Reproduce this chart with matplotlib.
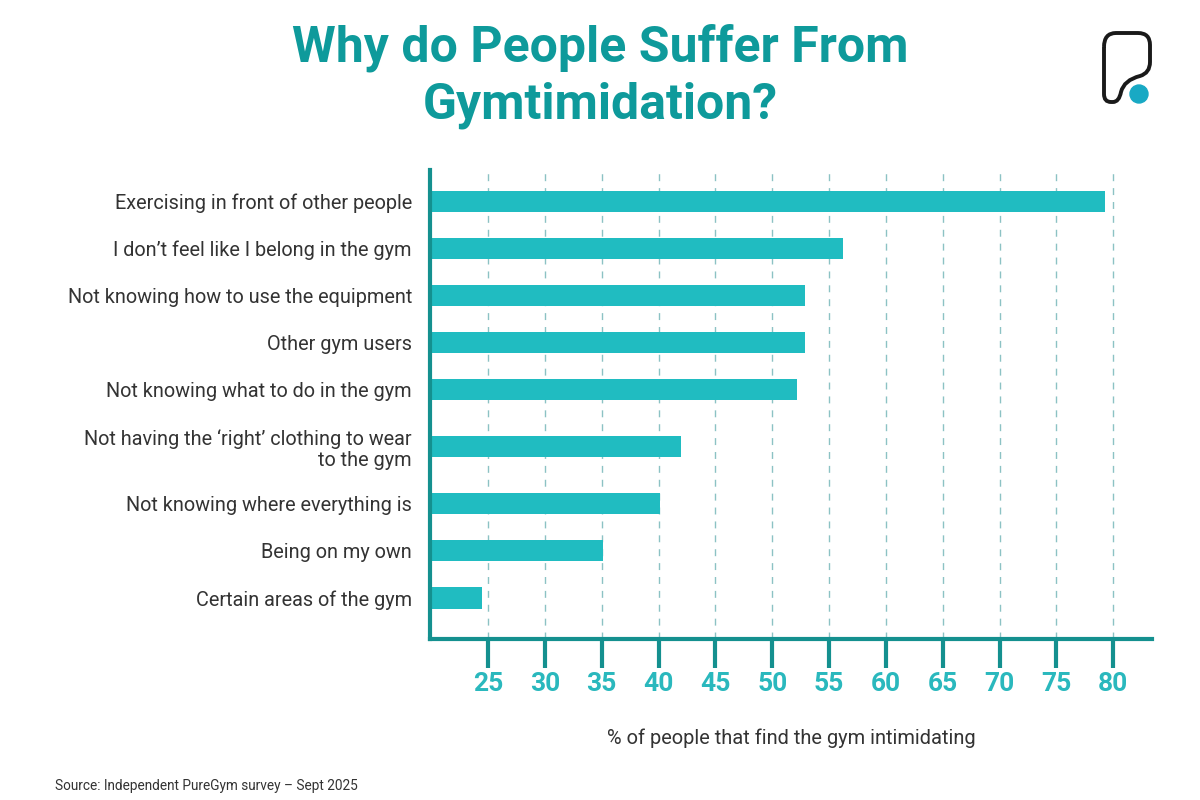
import numpy as np
import matplotlib
matplotlib.use("Agg")
import matplotlib.pyplot as plt
from matplotlib.path import Path
from matplotlib.patches import PathPatch, Circle

# survey answers, top to bottom
reasons = [
    "Exercising in front of other people",
    "I don\u2019t feel like I belong in the gym",
    "Not knowing how to use the equipment",
    "Other gym users",
    "Not knowing what to do in the gym",
    "Not having the \u2018right\u2019 clothing to wear\nto the gym",
    "Not knowing where everything is",
    "Being on my own",
    "Certain areas of the gym",
]
percent = [79.3, 56.2, 52.9, 52.9, 52.2, 42.0, 40.1, 35.1, 24.5]
xticks = [25, 30, 35, 40, 45, 50, 55, 60, 65, 70, 75, 80]

bar_col = "#20bcc1"
dark_teal = "#14908f"
title_col = "#0e9a9b"
text_col = "#333333"

fig = plt.figure(figsize=(12, 8), dpi=100)
ax = fig.add_axes([430/1200, 1-639/800, (1152-430)/1200, (639-170)/800])

# row positions: two-line labels get a bit more room
nlines = [r.count("\n") + 1 for r in reasons]
ypos = [0.0]
for i in range(1, len(reasons)):
    extra = 0.21 if (nlines[i] > 1 or nlines[i-1] > 1) else 0.0
    ypos.append(ypos[-1] + 1.0 + extra)
ypos = np.array(ypos)

ax.barh(ypos, percent, left=0, height=0.45, color=bar_col, zorder=2)
ax.set_xlim(19.9, 83.4)
ax.set_ylim(ypos[-1] + 0.87, -0.66)

for t in xticks:
    ax.axvline(t, color="#8cc2c4", lw=1.0, ls=(0, (5, 5)), zorder=1)

ax.set_yticks(ypos)
ax.set_yticklabels(reasons, fontsize=14.3, color=text_col, family="Roboto", linespacing=1.15)
ax.tick_params(axis="y", length=0, pad=13)
for lbl in ax.get_yticklabels():
    lbl.set_horizontalalignment("right")

ax.set_xticks(xticks)
ax.set_xticklabels([str(t) for t in xticks], fontsize=19, color="#2ab8bd",
                   family="Roboto", fontweight="bold")
ax.tick_params(axis="x", length=21, width=3, color=dark_teal, pad=3, direction="out")

for s in ["top", "right"]:
    ax.spines[s].set_visible(False)
for s in ["left", "bottom"]:
    ax.spines[s].set_color(dark_teal)
    ax.spines[s].set_linewidth(3)

ax.set_xlabel("% of people that find the gym intimidating", fontsize=14.4, color=text_col,
              family="Roboto", labelpad=23)

fig.text(0.5, 1-76/800, "Why do People Suffer From\nGymtimidation?", ha="center", va="center",
         fontsize=36, fontweight="bold", color=title_col, family="Roboto", linespacing=1.25)
fig.text(55/1200, 1-786/800, "Source: Independent PureGym survey \u2013 Sept 2025",
         fontsize=9.8, color=text_col, family="Roboto", va="center")

# logo
lax = fig.add_axes([1095/1200, 1-110/800, 65/1200, 85/800])
lax.set_xlim(1095, 1160)
lax.set_ylim(110, 25)
lax.axis("off")
verts = [(1104, 47), (1104, 94), (1104, 102), (1111, 102), (1113, 102), (1119, 102),
         (1121, 92), (1124, 80), (1140, 76), (1150, 73), (1150, 62), (1150, 45),
         (1150, 33), (1138, 33), (1116, 33), (1104, 33), (1104, 47)]
codes = [Path.MOVETO, Path.LINETO, Path.CURVE3, Path.CURVE3, Path.LINETO, Path.CURVE3,
         Path.CURVE3, Path.CURVE3, Path.CURVE3, Path.CURVE3, Path.CURVE3, Path.LINETO,
         Path.CURVE3, Path.CURVE3, Path.LINETO, Path.CURVE3, Path.CURVE3]
lax.add_patch(PathPatch(Path(verts, codes), fill=False, lw=2.8, color="#1a1a1a"))
lax.add_patch(Circle((1139, 94), 9, color="#18a9c4"))
lax.set_aspect("equal")

fig.savefig("out.png", dpi=100)
